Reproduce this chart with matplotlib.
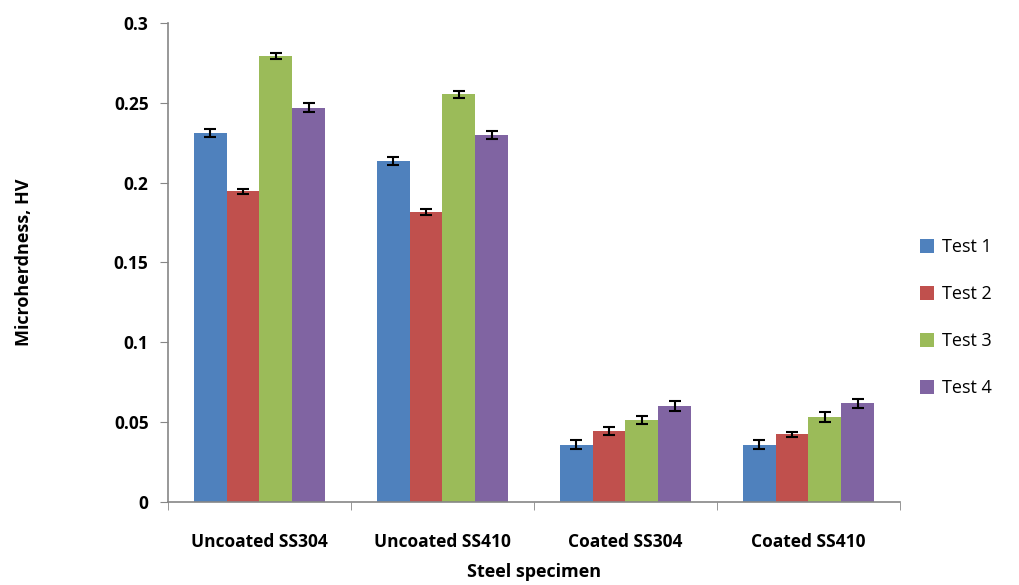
import matplotlib
matplotlib.use("Agg")
import matplotlib.pyplot as plt
import numpy as np

categories = ["Uncoated SS304", "Uncoated SS410", "Coated SS304", "Coated SS410"]
series = ["Test 1", "Test 2", "Test 3", "Test 4"]
test1 = [0.231, 0.2135, 0.036, 0.036]
test2 = [0.1947, 0.1816, 0.0443, 0.0425]
test3 = [0.2793, 0.2554, 0.0512, 0.0532]
test4 = [0.2470, 0.2298, 0.0600, 0.0618]
err1 = [0.0025, 0.0025, 0.003, 0.003]
err2 = [0.0015, 0.0018, 0.0025, 0.0015]
err3 = [0.0018, 0.0022, 0.0025, 0.003]
err4 = [0.003, 0.0025, 0.003, 0.003]
colors = ["#4F81BD", "#C0504D", "#9BBB59", "#8064A2"]
yticks = [0, 0.05, 0.1, 0.15, 0.2, 0.25, 0.3]
ytick_labels = ["0", "0.05", "0.1", "0.15", "0.2", "0.25", "0.3"]

plt.rcParams['font.family'] = ['Open Sans', 'DejaVu Sans']

fig = plt.figure(figsize=(10.2, 5.85), dpi=100)
ax = fig.add_axes([0.1647, 0.1419, 0.8823 - 0.1647, 0.9607 - 0.1419])

x = np.arange(len(categories))
w = 0.18
vals = [test1, test2, test3, test4]
errs = [err1, err2, err3, err4]
for i, (v, e) in enumerate(zip(vals, errs)):
    ax.bar(x + (i - 1.5) * w, v, w, color=colors[i], label=series[i],
           yerr=e, capsize=4, error_kw=dict(ecolor="black", elinewidth=1.5, capthick=1.5))

ax.set_xlim(-0.5, 3.5)
ax.set_ylim(0, 0.3)
ax.set_yticks(yticks)
ax.set_yticklabels(ytick_labels, fontsize=12.5, fontweight="bold")
ax.set_xticks(x)
ax.set_xticklabels(categories, fontsize=12.5, fontweight="bold")
ax.tick_params(axis="x", length=0, pad=22)
ax.set_xticks(np.arange(-0.5, 4.0, 1.0), minor=True)
ax.tick_params(axis="x", which="minor", length=6, color="#868686", direction="out")
ax.tick_params(axis="y", length=6, color="#868686", direction="out", pad=8)

for s in ["top", "right"]:
    ax.spines[s].set_visible(False)
for s in ["left", "bottom"]:
    ax.spines[s].set_color("#868686")
    ax.spines[s].set_linewidth(1.2)

ax.set_ylabel("Microherdness, HV", fontsize=13, fontweight="bold", labelpad=58)
ax.set_xlabel("Steel specimen", fontsize=13, fontweight="bold", labelpad=9)

leg = ax.legend(loc="center left", bbox_to_anchor=(1.005, 0.385), frameon=False,
                fontsize=13, labelspacing=1.6, handlelength=0.8, handleheight=0.8,
                handletextpad=0.4)

fig.savefig("out.png", dpi=100)
